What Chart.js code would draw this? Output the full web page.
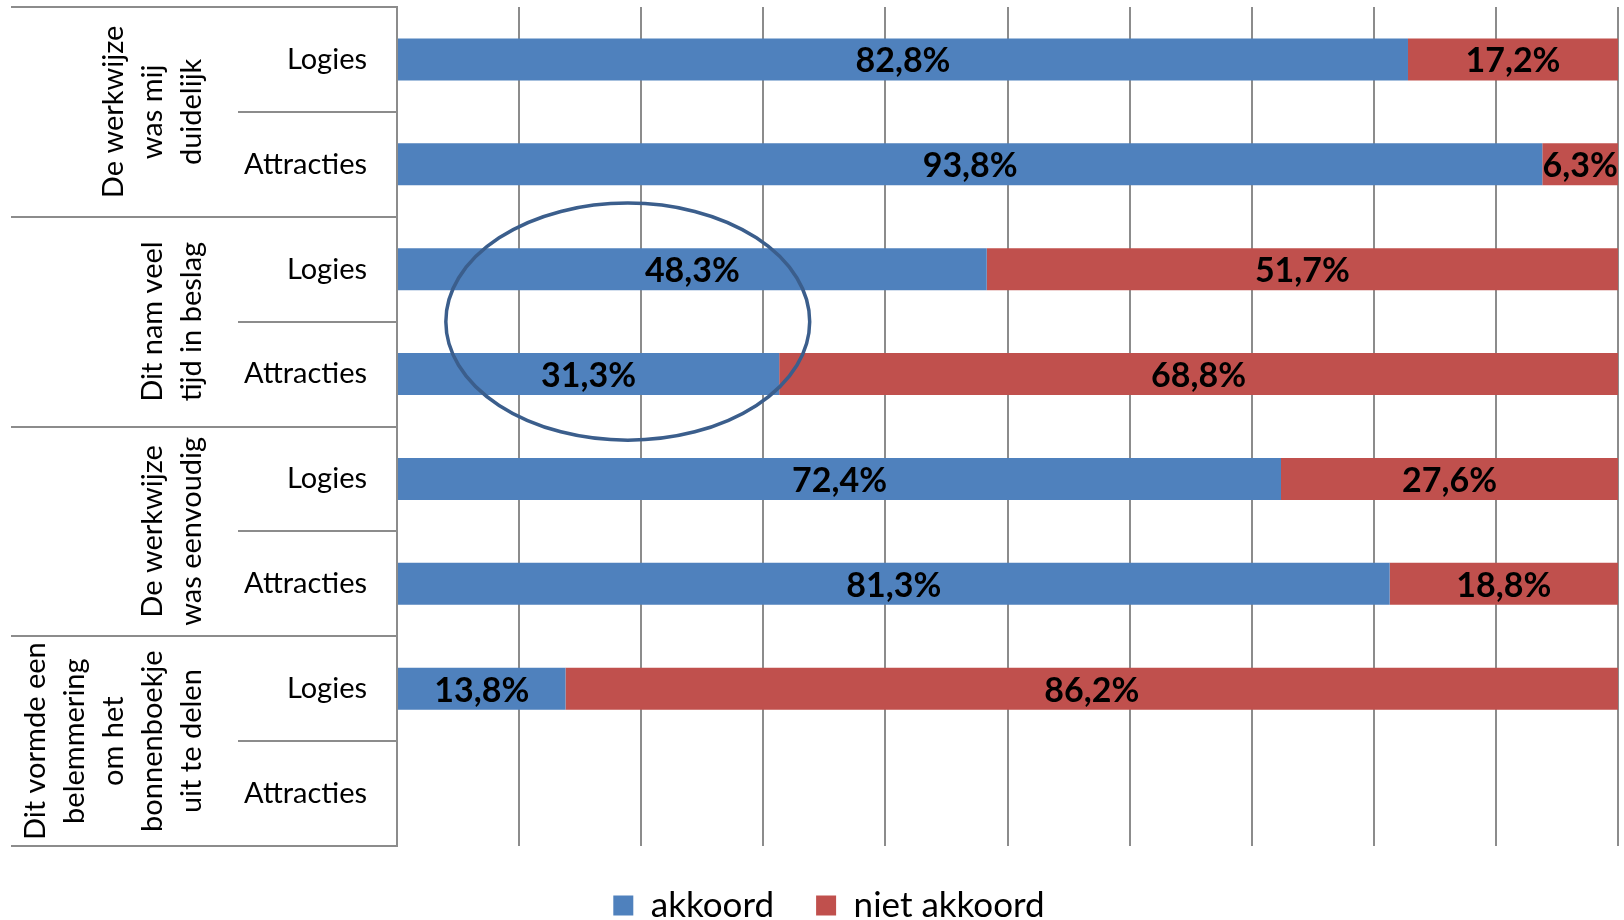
<!DOCTYPE html>
<html>
<head>
<meta charset="utf-8">
<script src="https://cdn.jsdelivr.net/npm/chart.js@4.4.1/dist/chart.umd.min.js"></script>
<style>
  html, body { margin: 0; padding: 0; background: #fff; }
  #wrap { width: 1624px; height: 920px; position: relative; }
</style>
</head>
<body>
<div id="wrap"><canvas id="grafiek"></canvas></div>
<script>
const rijen = ["Logies", "Attracties", "Logies", "Attracties", "Logies", "Attracties", "Logies", "Attracties"];
const groepen = [
  ["De werkwijze", "was mij", "duidelijk"],
  ["Dit nam veel", "tijd in beslag"],
  ["De werkwijze", "was eenvoudig"],
  ["Dit vormde een", "belemmering", "om het", "bonnenboekje", "uit te delen"],
];
const akkoord = [82.8, 93.8, 48.3, 31.3, 72.4, 81.3, 13.8, null];
const nietAkkoord = [17.2, 6.3, 51.7, 68.8, 27.6, 18.8, 86.2, null];
const reeksen = ["akkoord", "niet akkoord"];

// omcirkelde gedeelte (in waarden van de assen)
const markering = { x: 18.9, rij: 2.5, rx: 14.9, ry: 1.13 };

const grijs = "#8c8c8c";
Chart.defaults.font.family = "Lato";
Chart.defaults.color = "#000";

const fmt = (v) => v.toFixed(1).replace(".", ",") + "%";

const waardenPlugin = {
  id: "waarden",
  afterDatasetsDraw(chart) {
    const ctx = chart.ctx;
    ctx.save();
    ctx.font = "bold 34px Lato";
    ctx.fillStyle = "#000";
    ctx.textAlign = "center";
    ctx.textBaseline = "middle";
    chart.data.datasets.forEach((ds, d) => {
      chart.getDatasetMeta(d).data.forEach((bar, i) => {
        const v = ds.data[i];
        if (v == null) return;
        const rechts = Math.min(bar.x, chart.chartArea.right);
        ctx.fillText(fmt(v), (bar.base + rechts) / 2, bar.y + 2);
      });
    });
    ctx.restore();
  },
};

const tabelPlugin = {
  id: "tabel",
  afterDraw(chart) {
    const ctx = chart.ctx;
    const y = chart.scales.y;
    const x = chart.scales.x;
    const area = chart.chartArea;
    const rij = y.getPixelForValue(1) - y.getPixelForValue(0);

    ctx.save();
    ctx.strokeStyle = grijs;
    ctx.lineWidth = 2;
    for (let i = 0; i <= rijen.length; i++) {
      const py = Math.round(y.getPixelForValue(i) - rij / 2);
      ctx.beginPath();
      ctx.moveTo(i % 2 === 0 ? 11 : 238, py);
      ctx.lineTo(area.left, py);
      ctx.stroke();
    }

    ctx.fillStyle = "#000";
    ctx.font = "29px Lato";
    ctx.textAlign = "center";
    ctx.textBaseline = "alphabetic";
    groepen.forEach((regels, g) => {
      const midden = (y.getPixelForValue(g * 2) + y.getPixelForValue(g * 2 + 1)) / 2;
      ctx.save();
      ctx.translate(0, midden);
      ctx.rotate(-Math.PI / 2);
      regels.forEach((tekst, r) => {
        ctx.fillText(tekst, 0, 201 - (regels.length - 1 - r) * 39);
      });
      ctx.restore();
    });

    // ellips
    const cx = x.getPixelForValue(markering.x);
    const cy = y.getPixelForValue(markering.rij);
    const rx = x.getPixelForValue(markering.x + markering.rx) - cx;
    ctx.strokeStyle = "#3b5e8c";
    ctx.lineWidth = 3.5;
    ctx.beginPath();
    ctx.ellipse(cx, cy, rx, markering.ry * rij, 0, 0, Math.PI * 2);
    ctx.stroke();
    ctx.restore();
  },
};

const data = {
  labels: rijen,
  datasets: [
    { label: reeksen[0], data: akkoord, backgroundColor: "#4f81bd" },
    { label: reeksen[1], data: nietAkkoord, backgroundColor: "#c0504d" },
  ],
};

const config = {
  type: "bar",
  data: data,
  options: {
    indexAxis: "y",
    responsive: true,
    maintainAspectRatio: false,
    animation: false,
    layout: { padding: { top: 7, right: 6, left: 40, bottom: -13 } },
    datasets: { bar: { categoryPercentage: 1, barPercentage: 0.4 } },
    scales: {
      x: {
        stacked: true,
        min: 0,
        max: 100,
        ticks: { display: false, stepSize: 10 },
        grid: { color: grijs, lineWidth: 2, drawTicks: false },
        border: { display: false },
      },
      y: {
        stacked: true,
        afterFit: (scale) => {
          scale.width = 357;
          scale.paddingTop = 0;
          scale.paddingBottom = 0;
        },
        ticks: { font: { size: 29 }, padding: 30, color: "#000" },
        grid: { display: false, drawTicks: false },
        border: { display: true, color: grijs, width: 2 },
      },
    },
    plugins: {
      legend: {
        position: "bottom",
        labels: { boxWidth: 20, boxHeight: 20, padding: 42, font: { size: 35 }, color: "#000" },
      },
      tooltip: { enabled: false },
    },
  },
  plugins: [waardenPlugin, tabelPlugin],
};

const grafiek = new Chart(document.getElementById("grafiek"), config);
</script>
</body>
</html>
